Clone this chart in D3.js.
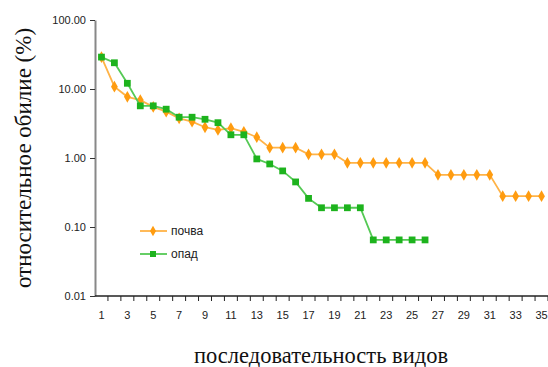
<!DOCTYPE html>
<html>
<head>
<meta charset="utf-8">
<script src="https://cdn.jsdelivr.net/npm/d3@7"></script>
<style>
  body { margin: 0; background: #fff; }
  svg { display: block; }
</style>
</head>
<body>
<div id="grafico"></div>
<script>
// Datos
const especies = d3.range(1, 36);
const pochva = [29, 10.8, 7.7, 6.9, 5.5, 4.7, 3.76, 3.36, 2.79, 2.55, 2.7, 2.4, 2.0,
  1.41, 1.41, 1.41, 1.13, 1.13, 1.13, 0.85, 0.85, 0.85, 0.85, 0.85, 0.85, 0.85,
  0.57, 0.57, 0.57, 0.57, 0.57, 0.28, 0.28, 0.28, 0.28];
const opad = [29, 24, 12.1, 5.7, 5.7, 5.1, 3.9, 3.9, 3.64, 3.25, 2.17, 2.17, 0.97,
  0.82, 0.65, 0.45, 0.26, 0.19, 0.19, 0.19, 0.19, 0.065, 0.065, 0.065, 0.065, 0.065];
const yTicks = [0.01, 0.1, 1, 10, 100];
const nombres = ["почва", "опад"];

const width = 548, height = 367;
const margin = { top: 20, right: 0, bottom: 71, left: 95 };

const svg = d3.select("#grafico").append("svg")
  .attr("width", width)
  .attr("height", height);

const x = d3.scaleBand()
  .domain(especies)
  .range([margin.left, width - margin.right]);

const y = d3.scaleLog()
  .domain([0.01, 100])
  .range([height - margin.bottom, margin.top]);

const cx = d => x(d) + x.bandwidth() / 2;

// Eje Y
const ejeY = svg.append("g")
  .attr("transform", `translate(${margin.left},0)`)
  .call(d3.axisLeft(y).tickValues(yTicks).tickFormat(d3.format(".2f")).tickSize(5).tickSizeOuter(0));
ejeY.select(".domain").attr("stroke", "#888").attr("stroke-width", 2);
ejeY.selectAll(".tick line").attr("stroke", "#333");
ejeY.selectAll("text")
  .attr("font-family", "Arial, 'Liberation Sans', sans-serif")
  .attr("font-size", "11px")
  .attr("fill", "#222")
  .attr("x", -9);

// Eje X con marcas entre categorías
const ejeX = svg.append("g")
  .attr("transform", `translate(0,${height - margin.bottom})`);
ejeX.append("line")
  .attr("x1", margin.left).attr("x2", width - margin.right)
  .attr("stroke", "#222").attr("stroke-width", 1.5);
ejeX.selectAll(".marca")
  .data(especies)
  .enter().append("line")
  .attr("x1", d => x(d) + x.bandwidth())
  .attr("x2", d => x(d) + x.bandwidth())
  .attr("y1", 0).attr("y2", 5)
  .attr("stroke", "#222");
ejeX.selectAll(".etiqueta")
  .data(especies.filter(d => d % 2 === 1))
  .enter().append("text")
  .attr("x", d => cx(d))
  .attr("y", 23)
  .attr("text-anchor", "middle")
  .attr("font-family", "Arial, 'Liberation Sans', sans-serif")
  .attr("font-size", "11px")
  .attr("fill", "#222")
  .text(d => d);

// Títulos de ejes
svg.append("text")
  .attr("transform", "translate(31,158) rotate(-90)")
  .attr("text-anchor", "middle")
  .attr("font-family", "'Liberation Serif', 'Times New Roman', serif")
  .attr("font-size", "23px")
  .attr("fill", "#111")
  .text("относительное обилие (%)");

svg.append("text")
  .attr("x", 321)
  .attr("y", 363)
  .attr("text-anchor", "middle")
  .attr("font-family", "'Liberation Serif', 'Times New Roman', serif")
  .attr("font-size", "22.5px")
  .attr("fill", "#111")
  .text("последовательность видов");

// Series
const series = [
  { nombre: nombres[0], valores: pochva, linea: "#ffb347", color: "#ff9c10", forma: d3.symbolDiamond },
  { nombre: nombres[1], valores: opad, linea: "#55c955", color: "#1db31d", forma: d3.symbolSquare }
];

const linea = d3.line()
  .x((d, i) => cx(especies[i]))
  .y(d => y(d));

series.forEach(s => {
  svg.append("path")
    .datum(s.valores)
    .attr("fill", "none")
    .attr("stroke", s.linea)
    .attr("stroke-width", 1.8)
    .attr("d", linea);

  svg.selectAll(null)
    .data(s.valores)
    .enter().append("path")
    .attr("transform", (d, i) => `translate(${cx(especies[i])},${y(d)})`)
    .attr("d", d3.symbol().type(s.forma).size(s.forma === d3.symbolSquare ? 46 : 40))
    .attr("fill", s.color);
});

// Leyenda
const leyenda = svg.append("g");
series.forEach((s, i) => {
  const ly = 231 + i * 23;
  leyenda.append("line")
    .attr("x1", 140).attr("x2", 167)
    .attr("y1", ly).attr("y2", ly)
    .attr("stroke", s.linea).attr("stroke-width", 1.8);
  leyenda.append("path")
    .attr("transform", `translate(153,${ly})`)
    .attr("d", d3.symbol().type(s.forma).size(s.forma === d3.symbolSquare ? 36 : 32))
    .attr("fill", s.color);
  leyenda.append("text")
    .attr("x", 171)
    .attr("y", ly + 4)
    .attr("font-family", "Arial, 'Liberation Sans', sans-serif")
    .attr("font-size", "12px")
    .attr("fill", "#222")
    .text(s.nombre);
});
</script>
</body>
</html>
